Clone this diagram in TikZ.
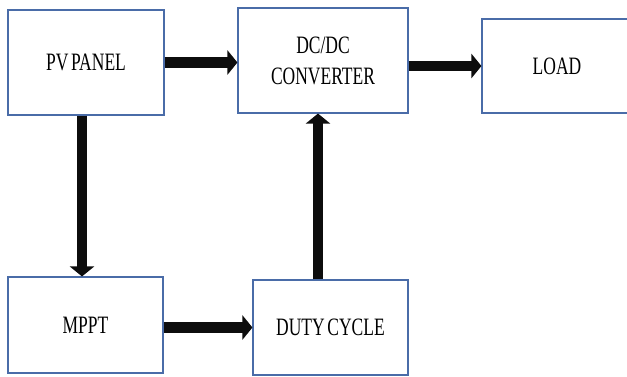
\documentclass[tikz,border=0pt]{standalone}
\usepackage{fontspec}
\newfontfamily\blockfont[FakeStretch=0.7,WordSpace=0.6]{Liberation Serif}
\usetikzlibrary{arrows.meta}
\definecolor{boxline}{HTML}{4A6CA8}

\tikzset{
  blockbox/.style={draw=boxline, line width=1.1pt, fill=white, inner sep=0pt,
    font=\blockfont\fontsize{25}{31}\selectfont, align=center},
  flowarrow/.style={line width=10.5pt, black!95,
    -{Triangle[width=24pt,length=10pt]}}
}

\begin{document}
\begin{tikzpicture}[x=1pt, y=-1pt]
\useasboundingbox (0,0) rectangle (627,376);

% blocks
\node[blockbox, minimum width=156pt, minimum height=105pt] (pv) at (86,62.5) {PV PANEL};
\node[blockbox, minimum width=170pt, minimum height=105pt] (dcdc) at (323,60.5) {DC/DC\\CONVERTER};
\node[blockbox, minimum width=150pt, minimum height=94pt] (load) at (557,66) {LOAD};
\node[blockbox, minimum width=155pt, minimum height=96pt] (mppt) at (85.5,325) {MPPT};
\node[blockbox, minimum width=155pt, minimum height=95pt] (duty) at (330.5,327.5) {DUTY CYCLE};

% arrows
\draw[flowarrow] (pv.east) -- (pv.east -| dcdc.west);
\draw[flowarrow] (dcdc.east |- load.west) -- (load.west);
\draw[flowarrow] ([xshift=-4pt]pv.south) -- ([xshift=-4pt]pv.south |- mppt.north);
\draw[flowarrow] (mppt.east |- duty.west) -- (duty.west);
\draw[flowarrow] ([xshift=-5pt]dcdc.south |- duty.north) -- ([xshift=-5pt]dcdc.south);
\end{tikzpicture}
\end{document}
